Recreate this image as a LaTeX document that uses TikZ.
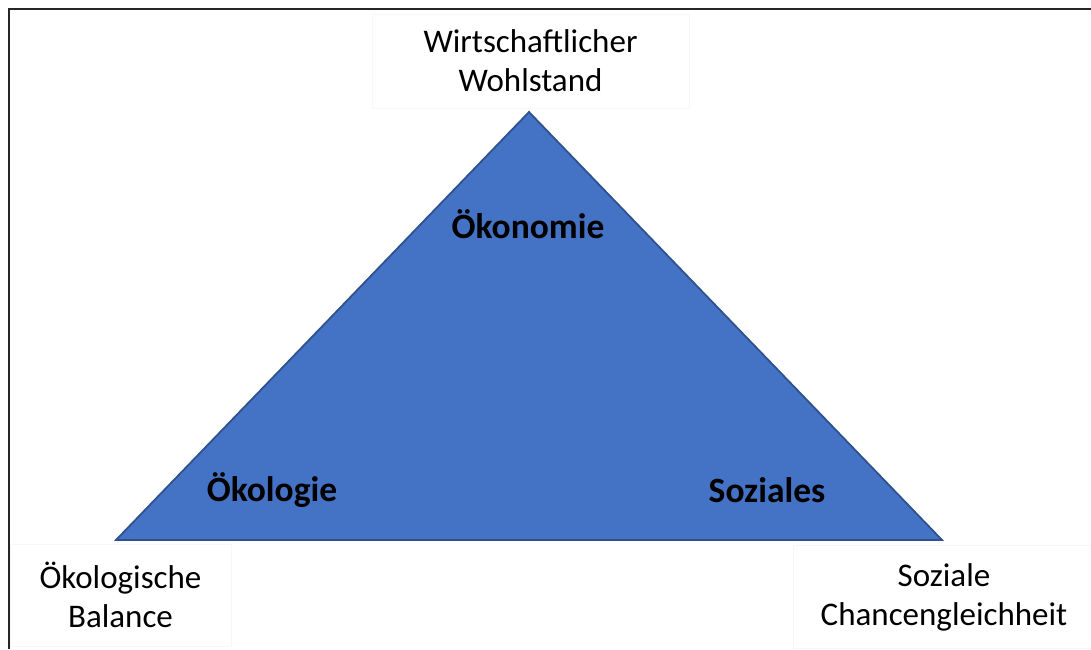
\documentclass[tikz,border=0pt]{standalone}
\usepackage{fontspec}
\setmainfont{Carlito}
\usepackage{xcolor}
\definecolor{triblue}{HTML}{4472C4}
\definecolor{triedge}{HTML}{2F528F}

\begin{document}
\begin{tikzpicture}[
  x=1pt, y=-1pt,
  font=\fontsize{33}{39}\selectfont,
  goal/.style={draw=gray!6, align=center, inner sep=0pt},
  pillar/.style={font=\fontsize{35.5}{40}\selectfont\bfseries},
  tri/.style={fill=triblue, draw=triedge, line width=1.8pt, line join=miter}
]
\useasboundingbox (0,0) rectangle (1091,649);
% frame
\draw[line width=2.2pt, black!85] (9,649) -- (9,9) -- (1091,9);

% triangle
\coordinate (top) at (529,112);
\coordinate (left) at (116,540);
\coordinate (right) at (942,540);
\draw[tri] (top) -- (left) -- (right) -- cycle;

% goals
\node[goal, minimum width=317pt, minimum height=94pt] (wohl) at (530.5,61) {Wirtschaftlicher\\Wohlstand};
\node[goal, minimum width=221pt, minimum height=102pt] (bal) at (120.5,595) {Ökologische\\Balance};
\node[goal, minimum width=302pt, minimum height=103pt] (chance) at (944,597) {Soziale\\Chancengleichheit};

% pillars
\node[pillar] (oek) at (528,224) {Ökonomie};
\node[pillar] (oeko) at (272,490) {Ökologie};
\node[pillar] (soz) at (767,490) {Soziales};
\end{tikzpicture}
\end{document}
